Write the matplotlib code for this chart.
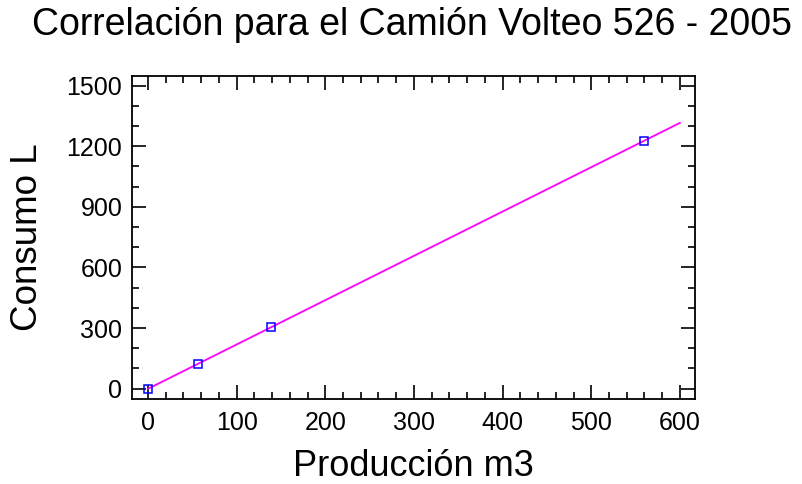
import numpy as np
from matplotlib import pyplot as plt
from matplotlib.ticker import MultipleLocator

produccion = [0, 57, 139, 560]
consumo = [0, 122, 305, 1228]

plt.rcParams['font.family'] = ['Liberation Sans', 'DejaVu Sans']

fig = plt.figure(figsize=(8.02, 4.84), dpi=100)
ax = fig.add_axes([132/802, 1 - 398.7/484, (695-132)/802, (398.7-76)/484])

# linear fit drawn across the x range
m, b = np.polyfit(produccion, consumo, 1)
xs = np.linspace(0, 600, 50)
ax.plot(xs, m*xs + b, color='#ff00ff', lw=1.3, zorder=2)
ax.plot(produccion, consumo, 's', mfc='none', mec='blue', ms=5.5, mew=1.1, zorder=3)

ax.set_xlim(-18, 617)
ax.set_ylim(-50, 1548)
ax.xaxis.set_major_locator(MultipleLocator(100))
ax.xaxis.set_minor_locator(MultipleLocator(20))
ax.yaxis.set_major_locator(MultipleLocator(300))
ax.yaxis.set_minor_locator(MultipleLocator(100))
ax.tick_params(which='both', direction='in', top=True, right=True, labelsize=18, width=1.2)
ax.tick_params(which='major', length=10)
ax.tick_params(which='minor', length=5)
ax.tick_params(axis='x', which='major', pad=9)
ax.tick_params(axis='y', which='major', pad=7)
for s in ax.spines.values():
    s.set_linewidth(1.3)

ax.set_xlabel('Producción m3', fontsize=26)
ax.set_ylabel('Consumo L', fontsize=26.5)
ax.xaxis.set_label_coords(0.5, -0.155)
ax.yaxis.set_label_coords(-0.155, 0.5)
fig.text(0.514, 1 - 35/484, 'Correlación para el Camión Volteo 526 - 2005',
         fontsize=27, ha='center', va='baseline')

fig.savefig('out.png', dpi=100)
